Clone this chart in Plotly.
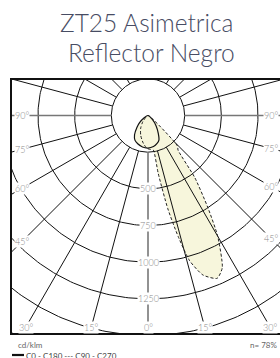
import numpy as np
import plotly.graph_objects as go

# ---------------- data ----------------
title_lines = ["ZT25 Asimetrica", "Reflector Negro"]

# C0 - C180 plane (solid), gamma in degrees (0 = down, + = right), cd/klm
gamma_c0 = [-68, -60, -50, -43, -35, -28, -20, -10, 0, 10, 18, 24, 30, 38, 48, 58]
int_c0 = [0, 30, 75, 110, 160, 190, 205, 218, 222, 215, 200, 183, 140, 90, 40, 0]

# C90 - C270 plane (dashed)
gamma_c90 = [-60, -50, -40, -30, -20, -10, -2, 4, 8.7, 10, 12, 14, 16, 19, 23, 26, 30, 33, 37, 41, 44, 44.6]
int_c90 = [0, 20, 55, 100, 145, 190, 224, 232, 238, 400, 650, 850, 1030, 1150, 1206, 1155, 950, 750, 530, 312, 290, 0]

ring_values = [250, 500, 750, 1000, 1250, 1500, 1750]
ring_label_values = [500, 750, 1000, 1250]
ring_label_text = ["500", "750", "1000", "1250"]
radial_angles = list(range(0, 360, 15))
side_label_angles = [90, 75, 60, 45]
bottom_label_angles = [30, 15, 0]

unit_text = "cd/klm"
eff_text = "n= 78%"
legend_text = "C0 - C180 --- C90 - C270"

# ---------------- geometry helpers ----------------
def to_xy(gamma, inten):
    g = np.radians(np.asarray(gamma, dtype=float))
    r = np.asarray(inten, dtype=float)
    return r * np.sin(g), -r * np.cos(g)

W, H = 280, 358
ML, MR, MT, MB = 12, 0, 80, 25
PX_PER_CD = 36.67 / 250.0
CX, CY = 148.0, 115.5  # pixel position of pole
x_range = [-(CX - ML) / PX_PER_CD, (W - MR - CX) / PX_PER_CD]
y_range = [-((H - MB) - CY) / PX_PER_CD, (CY - MT) / PX_PER_CD]

fig = go.Figure()

FILL = "#f7f6dc"
# fills
for g, i in [(gamma_c90, int_c90), (gamma_c0, int_c0)]:
    x, y = to_xy(g, i)
    fig.add_trace(go.Scatter(x=x, y=y, mode="lines", fill="toself", fillcolor=FILL,
                             line=dict(width=0, shape="spline", smoothing=0.6),
                             hoverinfo="skip", showlegend=False))

# rings
t = np.arange(0, 361, 1)
for rv in ring_values:
    x, y = to_xy(t, np.full_like(t, rv, dtype=float))
    fig.add_trace(go.Scatter(x=x, y=y, mode="lines", line=dict(color="#111", width=1),
                             hoverinfo="skip", showlegend=False))

# radial lines
for a in radial_angles:
    x, y = to_xy([a, a], [ring_values[0], 2200])
    main = a % 90 == 0
    fig.add_trace(go.Scatter(x=x, y=y, mode="lines",
                             line=dict(color="#777" if main else "#111", width=1.6 if main else 1),
                             hoverinfo="skip", showlegend=False))

# curves
x, y = to_xy(gamma_c0, int_c0)
fig.add_trace(go.Scatter(x=x, y=y, mode="lines", line=dict(color="#111", width=1.2, shape="spline", smoothing=0.6),
                         hoverinfo="skip", showlegend=False))
x, y = to_xy(gamma_c90, int_c90)
fig.add_trace(go.Scatter(x=x, y=y, mode="lines", line=dict(color="#222", width=1, dash="3px,2px", shape="spline", smoothing=0.6),
                         hoverinfo="skip", showlegend=False))

LBL = dict(size=9, color="#8a8a8a", family="Lato", weight=300)
ann = []
for rv, txt in zip(ring_label_values, ring_label_text):
    ann.append(dict(x=0, y=-rv, xref="x", yref="y", text=txt, showarrow=False, font=LBL,
                    bgcolor="white", borderpad=0))

left_x = (22 - CX) / PX_PER_CD
right_x = (271 - CX) / PX_PER_CD
for a in side_label_angles:
    yy = -abs(left_x) / np.tan(np.radians(a)) if a != 90 else 0.0
    ann.append(dict(x=left_x, y=yy, xref="x", yref="y", text=f"{a}°", showarrow=False, font=LBL,
                    bgcolor="white", borderpad=0))
    yy2 = -abs(right_x) / np.tan(np.radians(a)) if a != 90 else 0.0
    ann.append(dict(x=right_x, y=yy2, xref="x", yref="y", text=f"{a}°", showarrow=False, font=LBL,
                    bgcolor="white", borderpad=0))
bot_y = -(327 - CY) / PX_PER_CD
for a in bottom_label_angles:
    for s in ([1] if a == 0 else [-1, 1]):
        ann.append(dict(x=s * abs(bot_y) * np.tan(np.radians(a)), y=bot_y, xref="x", yref="y",
                        text=f"{a}°", showarrow=False, font=LBL, bgcolor="white", borderpad=0))

PH = H - MT - MB
PW = W - ML - MR
def px(xp):
    return (xp - ML) / PW
def py(yp):
    return ((H - MB) - yp) / PH

TF = dict(size=24.5, color="#474c63", family="Lato", weight=300)
ann.append(dict(x=px(146), y=py(23), xref="paper", yref="paper", text=title_lines[0], showarrow=False,
                font=TF, xanchor="center", yanchor="middle"))
ann.append(dict(x=px(151), y=py(53), xref="paper", yref="paper", text=title_lines[1], showarrow=False,
                font=TF, xanchor="center", yanchor="middle"))

SF = dict(size=8, color="#666", family="Lato")
ann.append(dict(x=px(16), y=py(345), xref="paper", yref="paper", text=unit_text, showarrow=False,
                font=SF, xanchor="left", yanchor="middle"))
ann.append(dict(x=px(248), y=py(345), xref="paper", yref="paper", text=eff_text, showarrow=False,
                font=SF, xanchor="left", yanchor="middle"))
ann.append(dict(x=px(24), y=py(355.5), xref="paper", yref="paper", text=legend_text, showarrow=False,
                font=dict(size=8, color="#444", family="Lato"), xanchor="left", yanchor="middle"))

fig.update_layout(
    width=W, height=H, autosize=False,
    margin=dict(l=ML, r=MR, t=MT, b=MB, pad=0),
    paper_bgcolor="white", plot_bgcolor="white",
    xaxis=dict(range=x_range, showgrid=False, zeroline=False, showticklabels=False, ticks="",
               showline=True, mirror=True, linecolor="#111", linewidth=2, fixedrange=True),
    yaxis=dict(range=y_range, showgrid=False, zeroline=False, showticklabels=False, ticks="",
               showline=True, mirror=False, linecolor="#111", linewidth=1.6, fixedrange=True),
    annotations=ann,
    shapes=[dict(type="line", xref="paper", yref="paper", x0=px(12), x1=px(24), y0=py(355), y1=py(355),
                 line=dict(color="#111", width=2.2))],
    showlegend=False,
)

fig.write_html("out.html", config={"displayModeBar": False},
               post_script="document.body.style.margin='0';document.body.style.padding='0';document.body.style.overflow='hidden';")
